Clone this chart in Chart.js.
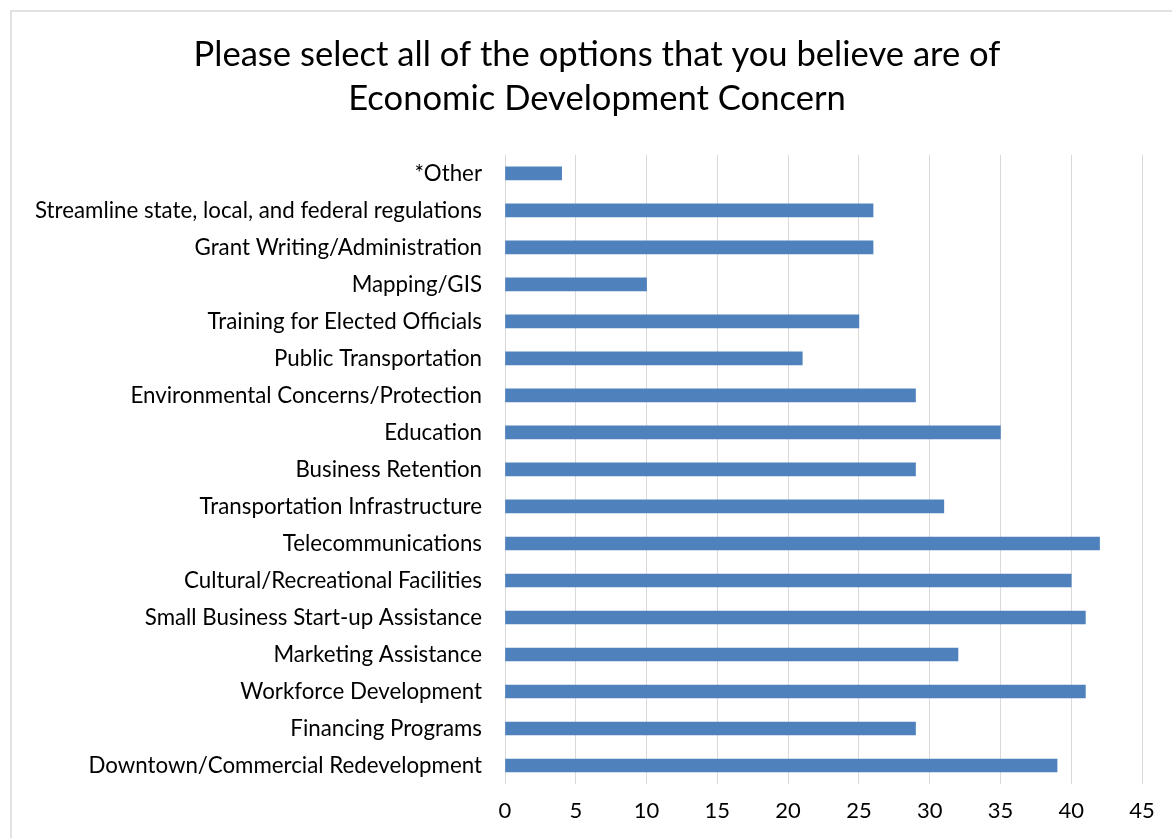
<!DOCTYPE html>
<html>
<head>
<meta charset="utf-8">
<title>Economic Development Concern</title>
<script src="https://cdn.jsdelivr.net/npm/chart.js@4.4.1/dist/chart.umd.min.js"></script>
<style>
  html, body { margin: 0; padding: 0; background: #fff; }
  #wrap { width: 1172px; height: 838px; }
</style>
</head>
<body>
<div id="wrap"><canvas id="concernChart" width="1172" height="838"></canvas></div>
<script>
// survey answers, listed top to bottom
const categories = [
  '*Other',
  'Streamline state, local, and federal regulations',
  'Grant Writing/Administration',
  'Mapping/GIS',
  'Training for Elected Officials',
  'Public Transportation',
  'Environmental Concerns/Protection',
  'Education',
  'Business Retention',
  'Transportation Infrastructure',
  'Telecommunications',
  'Cultural/Recreational Facilities',
  'Small Business Start-up Assistance',
  'Marketing Assistance',
  'Workforce Development',
  'Financing Programs',
  'Downtown/Commercial Redevelopment'
];
const responses = [4, 26, 26, 10, 25, 21, 29, 35, 29, 31, 42, 40, 41, 32, 41, 29, 39];
const xTicks = [0, 5, 10, 15, 20, 25, 30, 35, 40, 45];

const titleLines = [
  'Please select all of the options that you believe are of',
  'Economic Development Concern'
];

const FONT = 'Lato, "Open Sans", sans-serif';

// thin grey frame around the whole chart
const framePlugin = {
  id: 'frame',
  beforeDraw(chart) {
    const ctx = chart.ctx;
    ctx.save();
    ctx.fillStyle = '#fff';
    ctx.fillRect(0, 0, chart.width, chart.height);
    ctx.strokeStyle = '#d9d9d9';
    ctx.lineWidth = 1.5;
    ctx.strokeRect(11, 11, chart.width + 20, chart.height + 20);
    ctx.restore();
  }
};

// nudge the title a little right so it sits over the plot rather than the canvas
const titleShift = {
  id: 'titleShift',
  afterLayout(chart) {
    const t = chart.titleBlock;
    if (t) {
      t.left += 26;
      t.right += 26;
    }
  }
};

Chart.register(framePlugin, titleShift);

const ctx = document.getElementById('concernChart').getContext('2d');
new Chart(ctx, {
  type: 'bar',
  data: {
    labels: categories,
    datasets: [{
      data: responses,
      backgroundColor: '#4f81bd',
      borderWidth: 0,
      barThickness: 13
    }]
  },
  options: {
    indexAxis: 'y',
    responsive: false,
    animation: false,
    layout: { padding: { left: 0, right: 30, top: 0, bottom: 0 } },
    plugins: {
      legend: { display: false },
      tooltip: { enabled: false },
      title: {
        display: true,
        text: titleLines,
        color: '#000',
        font: { family: FONT, size: 34.6, weight: 'normal', lineHeight: 1.27 },
        padding: { top: 33, bottom: 34 }
      }
    },
    scales: {
      x: {
        min: 0,
        max: 45,
        afterBuildTicks(scale) {
          scale.ticks = xTicks.map(v => ({ value: v }));
        },
        afterFit(scale) { scale.height = 54; },
        grid: { color: '#d9d9d9', lineWidth: 1, drawTicks: false },
        border: { display: false },
        ticks: {
          color: '#000',
          padding: 14,
          font: { family: FONT, size: 22 }
        }
      },
      y: {
        afterFit(scale) { scale.width = 505; },
        grid: { display: false, drawTicks: false },
        border: { display: false },
        ticks: {
          color: '#000',
          padding: 23,
          autoSkip: false,
          font: { family: FONT, size: 22.3 }
        }
      }
    }
  }
});
</script>
</body>
</html>
